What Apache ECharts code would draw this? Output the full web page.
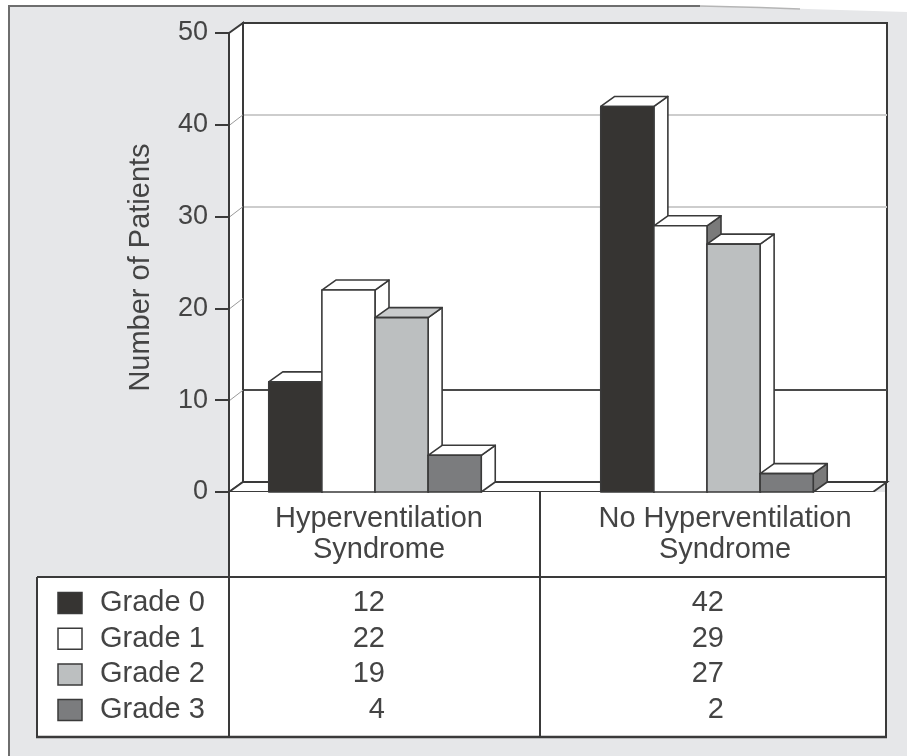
<!DOCTYPE html>
<html>
<head>
<meta charset="utf-8">
<title>Number of Patients by Grade</title>
<script src="https://cdn.jsdelivr.net/npm/echarts@6/dist/echarts.min.js"></script>
<style>
  html, body { margin: 0; padding: 0; background: #fff; }
  #chart { width: 907px; height: 756px; }
</style>
</head>
<body>
<div id="chart"></div>
<script>
// ---- data ----
const categories = ['Hyperventilation\nSyndrome', 'No Hyperventilation\nSyndrome'];
const grades = ['Grade 0', 'Grade 1', 'Grade 2', 'Grade 3'];
const grade0 = [12, 42];
const grade1 = [22, 29];
const grade2 = [19, 27];
const grade3 = [4, 2];
const yTicks = [0, 10, 20, 30, 40, 50];

const gradeValues = [grade0, grade1, grade2, grade3];

// ---- look ----
const FONT = "'Liberation Sans', Arial, Helvetica, sans-serif";
const TEXT = '#444444';
const EDGE = '#3a3a3a';
const GRADE_COLORS = ['#363432', '#ffffff', '#bcbfc0', '#7b7c7e'];
const PANEL = '#e6e7e9';

// pseudo-3D depth of the box and the bars
const DX = 14, DY = 10;
const FRONT = { left: 229, top: 33, width: 664, height: 459 };
const BACK = { left: 243, top: 23, width: 644, height: 459 };
const FLOOR_RIGHT = 873;
const BAR_FRAC = 0.16;
const GROUP_SHIFT = -20;

// shading of the top and side faces, per grade and per group
function topFill(g, ci) {
  if (g === 2 && ci === 0) return '#c9cbcc';
  return '#ffffff';
}
function sideFill(g, ci) {
  if ((g === 1 || g === 3) && ci === 1) return '#7a7a7a';
  return '#ffffff';
}

// ---- table under the plot ----
const TABLE = { legendLeft: 37, axisX: 229, divX: 540, right: 886, headTop: 492, bodyTop: 577, bottom: 737 };
const ROW_Y0 = 603, ROW_STEP = 35.7;
const HEAD_X = [379, 725];
const VALUE_RIGHT = [385, 724];

const chart = echarts.init(document.getElementById('chart'));

function barRenderer(g) {
  return function (params, api) {
    const ci = api.value(0);
    const v = api.value(1);
    const band = api.size([1, 0])[0];
    const w = band * BAR_FRAC;
    const top = api.coord([ci, v]);
    const base = api.coord([ci, 0]);
    const x0 = top[0] - 2 * w + g * w + GROUP_SHIFT;
    const x1 = x0 + w;
    const yt = top[1], yb = base[1];
    const edge = { stroke: EDGE, lineWidth: 1.6, lineJoin: 'round' };
    return {
      type: 'group',
      children: [
        { type: 'polygon', shape: { points: [[x1, yt], [x1 + DX, yt - DY], [x1 + DX, yb - DY], [x1, yb]] },
          style: Object.assign({ fill: sideFill(g, ci) }, edge) },
        { type: 'polygon', shape: { points: [[x0, yt], [x1, yt], [x1 + DX, yt - DY], [x0 + DX, yt - DY]] },
          style: Object.assign({ fill: topFill(g, ci) }, edge) },
        { type: 'rect', shape: { x: x0, y: yt, width: w, height: yb - yt },
          style: Object.assign({ fill: GRADE_COLORS[g] }, edge) }
      ]
    };
  };
}

function txt(text, x, y, align, size) {
  return {
    type: 'text', z: 1, silent: true,
    style: {
      text: text, x: x, y: y,
      align: align, textAlign: align,
      verticalAlign: 'middle', textVerticalAlign: 'middle',
      font: size + 'px ' + FONT, fill: TEXT, lineHeight: 31
    }
  };
}
function seg(x1, y1, x2, y2, w) {
  return { type: 'line', z: 1, silent: true, shape: { x1: x1, y1: y1, x2: x2, y2: y2 },
           style: { stroke: EDGE, lineWidth: w || 2 } };
}

const graphics = [];
// white margin outside the grey panel, with the curled top-right corner
graphics.push({ type: 'rect', z: 1, silent: true, shape: { x: 0, y: 0, width: 9, height: 756 }, style: { fill: '#fff' } });
graphics.push({ type: 'polygon', z: 1, silent: true,
  shape: { points: [[0, 0], [907, 0], [907, 12], [840, 10], [760, 7.5], [700, 6], [0, 6]] }, style: { fill: '#fff' } });
graphics.push({ type: 'polyline', z: 1, silent: true, shape: { points: [[9, 756], [9, 6], [700, 6]] },
  style: { stroke: '#6e6e6e', lineWidth: 2, fill: null } });
graphics.push({ type: 'polyline', z: 1, silent: true, shape: { points: [[700, 6], [760, 7.5], [800, 9]] },
  style: { stroke: '#b5b5b5', lineWidth: 1.5, fill: null } });

// left side wall and floor of the box
const fb = FRONT.top + FRONT.height, bb = BACK.top + BACK.height;
graphics.push({ type: 'polygon', z: 1, silent: true,
  shape: { points: [[FRONT.left, FRONT.top], [BACK.left, BACK.top], [BACK.left, bb], [FRONT.left, fb]] },
  style: { fill: '#fff', stroke: EDGE, lineWidth: 2 } });
graphics.push({ type: 'polygon', z: 1, silent: true,
  shape: { points: [[FRONT.left, fb], [FLOOR_RIGHT, fb], [FLOOR_RIGHT + DX, fb - DY], [BACK.left, bb]] },
  style: { fill: '#fff', stroke: EDGE, lineWidth: 1.8 } });

// table: header row with the categories, body with legend keys and counts
graphics.push({ type: 'rect', z: 1, silent: true,
  shape: { x: TABLE.axisX, y: TABLE.headTop, width: TABLE.right - TABLE.axisX, height: TABLE.bodyTop - TABLE.headTop },
  style: { fill: '#fff' } });
graphics.push({ type: 'rect', z: 1, silent: true,
  shape: { x: TABLE.legendLeft, y: TABLE.bodyTop, width: TABLE.right - TABLE.legendLeft, height: TABLE.bottom - TABLE.bodyTop },
  style: { fill: '#fff' } });
graphics.push(seg(TABLE.axisX, TABLE.headTop, TABLE.axisX, TABLE.bottom));
graphics.push(seg(TABLE.divX, TABLE.headTop, TABLE.divX, TABLE.bottom));
graphics.push(seg(TABLE.right, TABLE.headTop - 9, TABLE.right, TABLE.bottom));
graphics.push(seg(TABLE.legendLeft, TABLE.bodyTop, TABLE.legendLeft, TABLE.bottom));
graphics.push(seg(TABLE.legendLeft, TABLE.bodyTop, TABLE.right, TABLE.bodyTop));
graphics.push(seg(TABLE.legendLeft - 1, TABLE.bottom, TABLE.right + 1, TABLE.bottom, 2.5));

categories.forEach(function (name, i) {
  graphics.push(txt(name, HEAD_X[i], 534, 'center', 29));
});
grades.forEach(function (name, g) {
  const y = ROW_Y0 + g * ROW_STEP;
  graphics.push({ type: 'rect', z: 1, silent: true, shape: { x: 58, y: y - 10.5, width: 24, height: 21 },
    style: { fill: GRADE_COLORS[g], stroke: EDGE, lineWidth: 1.5 } });
  graphics.push(txt(name, 100, y, 'left', 29));
  gradeValues[g].forEach(function (v, i) {
    graphics.push(txt(String(v), VALUE_RIGHT[i], y, 'right', 29));
  });
});

const series = grades.map(function (name, g) {
  return {
    type: 'custom', name: name,
    xAxisIndex: 0, yAxisIndex: 0,
    clip: false, silent: true,
    renderItem: barRenderer(g),
    data: gradeValues[g].map(function (v, i) { return [i, v]; })
  };
});
// short slanted grid marks on the left side wall
series.unshift({
  type: 'custom', xAxisIndex: 0, yAxisIndex: 0, clip: false, silent: true,
  data: yTicks.filter(function (t) { return t > 0 && t < 50; }).map(function (t) { return [0, t]; }),
  renderItem: function (params, api) {
    const y = api.coord([0, api.value(1)])[1];
    const x = params.coordSys.x;
    return { type: 'line', shape: { x1: x + 1, y1: y, x2: x + DX, y2: y - DY },
             style: { stroke: '#9a9a9a', lineWidth: 1 } };
  }
});

chart.setOption({
  backgroundColor: PANEL,
  animation: false,
  grid: [
    { left: FRONT.left, top: FRONT.top, width: FRONT.width, height: FRONT.height, show: false },
    { left: BACK.left, top: BACK.top, width: BACK.width, height: BACK.height, show: true,
      backgroundColor: '#ffffff', borderColor: EDGE, borderWidth: 2 }
  ],
  xAxis: [
    { type: 'category', gridIndex: 0, data: categories,
      axisLine: { show: false }, axisTick: { show: false }, axisLabel: { show: false }, splitLine: { show: false } },
    { type: 'category', gridIndex: 1, data: categories,
      axisLine: { show: false }, axisTick: { show: false }, axisLabel: { show: false }, splitLine: { show: false } }
  ],
  yAxis: [
    { type: 'value', gridIndex: 0, min: yTicks[0], max: yTicks[yTicks.length - 1], interval: 10,
      name: 'Number of Patients', nameLocation: 'middle', nameGap: 74, nameRotate: 90,
      nameTextStyle: { fontSize: 29, color: TEXT, fontFamily: FONT, padding: [0, 10, 0, 0] },
      axisLine: { show: true, lineStyle: { color: EDGE, width: 2 } },
      axisTick: { show: true, length: 14, lineStyle: { color: EDGE, width: 2 } },
      axisLabel: { margin: 21, fontSize: 27, color: TEXT, fontFamily: FONT },
      splitLine: { show: false } },
    { type: 'value', gridIndex: 1, min: yTicks[0], max: yTicks[yTicks.length - 1], interval: 10,
      axisLine: { show: false }, axisTick: { show: false }, axisLabel: { show: false },
      splitLine: { show: true, lineStyle: { width: 2,
        color: ['rgba(0,0,0,0)', '#4a4a4a', 'rgba(0,0,0,0)', '#cdcdcd', '#cdcdcd', 'rgba(0,0,0,0)'] } } }
  ],
  graphic: { elements: graphics },
  series: series
});
</script>
</body>
</html>
